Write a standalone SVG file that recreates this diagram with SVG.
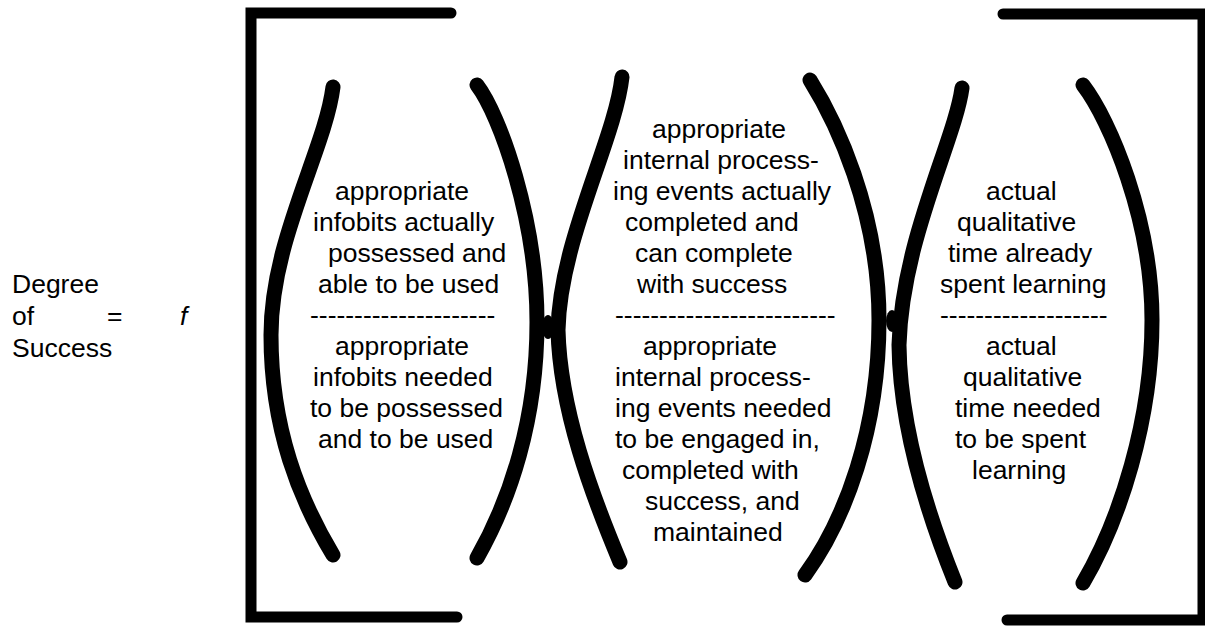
<svg xmlns="http://www.w3.org/2000/svg" width="1205" height="626" viewBox="0 0 1205 626">
  <style>
    .txt { font-family: "Liberation Sans", Arial, Helvetica, sans-serif; font-size: 26.5px; fill: #000; }
    .ital { font-style: italic; }
    .paren { fill: none; stroke: #000; stroke-width: 15; stroke-linecap: round; stroke-linejoin: round; }
    .bracket { fill: none; stroke: #000; stroke-width: 11; stroke-linecap: round; stroke-linejoin: miter; }
    .blob { fill: #000; }
  </style>
  <rect width="1205" height="626" fill="#fff"/>

  <!-- left-hand side of the equation -->
  <g id="lhs">
    <text class="txt" x="12" y="293">Degree</text>
    <text class="txt" x="12" y="325">of</text>
    <text class="txt" x="107" y="325">=</text>
    <text class="txt ital" x="180" y="325">f</text>
    <text class="txt" x="12" y="357">Success</text>
  </g>

  <!-- outer square brackets -->
  <g id="brackets">
    <path class="bracket" d="M451,13 L251,13 L251,617 L457,617"/>
    <path class="bracket" d="M1003,14 L1203,14 L1203,620 L1007,620"/>
  </g>

  <!-- parentheses and the joints between the ratios -->
  <g id="connectors">
    <path class="paren" d="M333,87 C325,150 271,240 271,335 C271,430 300,500 333,555"/>
    <path class="paren" d="M477,85 C500,115 537,220 537,322 C537,420 510,500 477,558"/>
    <path class="paren" d="M622,77 C615,140 560,240 558,330 C560,410 592,495 620,562"/>
    <path class="paren" d="M810,80 C835,120 879,210 879,320 C879,430 845,520 805,575"/>
    <path class="paren" d="M962,88 C955,140 902,240 899,345 C900,430 928,515 955,582"/>
    <path class="paren" d="M1083,85 C1110,120 1152,220 1152,320 C1152,420 1120,520 1083,583"/>
    <ellipse class="blob" cx="548" cy="327" rx="6" ry="12"/>
    <ellipse class="blob" cx="892" cy="321" rx="6" ry="11"/>
  </g>

  <!-- ratio 1: infobits -->
  <g id="ratio-infobits">
    <text class="txt" x="335" y="200">appropriate</text>
    <text class="txt" x="313" y="231">infobits actually</text>
    <text class="txt" x="328" y="262">possessed and</text>
    <text class="txt" x="318" y="293">able to be used</text>
    <text class="txt" x="310" y="324">---------------------</text>
    <text class="txt" x="335" y="355">appropriate</text>
    <text class="txt" x="313" y="386">infobits needed</text>
    <text class="txt" x="310" y="417">to be possessed</text>
    <text class="txt" x="318" y="448">and to be used</text>
  </g>

  <!-- ratio 2: internal processing events -->
  <g id="ratio-processing">
    <text class="txt" x="652" y="138">appropriate</text>
    <text class="txt" x="623" y="169">internal process-</text>
    <text class="txt" x="613" y="200">ing events actually</text>
    <text class="txt" x="625" y="231">completed and</text>
    <text class="txt" x="635" y="262">can complete</text>
    <text class="txt" x="637" y="293">with success</text>
    <text class="txt" x="615" y="324">-------------------------</text>
    <text class="txt" x="643" y="355">appropriate</text>
    <text class="txt" x="615" y="386">internal process-</text>
    <text class="txt" x="615" y="417">ing events needed</text>
    <text class="txt" x="615" y="448">to be engaged in,</text>
    <text class="txt" x="622" y="479">completed with</text>
    <text class="txt" x="645" y="510">success, and</text>
    <text class="txt" x="653" y="541">maintained</text>
  </g>

  <!-- ratio 3: qualitative time -->
  <g id="ratio-time">
    <text class="txt" x="986" y="200">actual</text>
    <text class="txt" x="957" y="231">qualitative</text>
    <text class="txt" x="948" y="262">time already</text>
    <text class="txt" x="940" y="293">spent learning</text>
    <text class="txt" x="940" y="324">-------------------</text>
    <text class="txt" x="986" y="355">actual</text>
    <text class="txt" x="963" y="386">qualitative</text>
    <text class="txt" x="955" y="417">time needed</text>
    <text class="txt" x="955" y="448">to be spent</text>
    <text class="txt" x="972" y="479">learning</text>
  </g>
</svg>
